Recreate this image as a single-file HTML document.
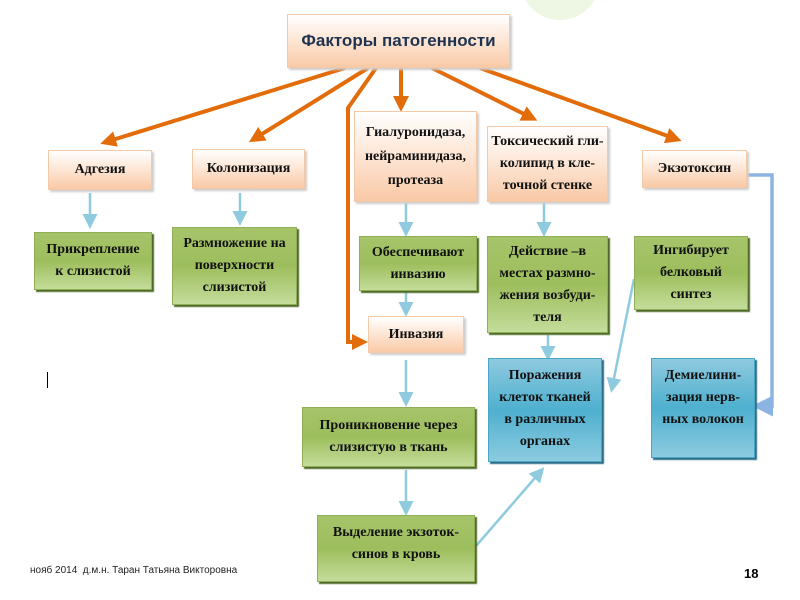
<!DOCTYPE html>
<html><head><meta charset="utf-8"><style>
body{margin:0;width:800px;height:600px;background:#fff;position:relative;overflow:hidden;font-family:"Liberation Serif",serif}
.b{position:absolute;display:flex;align-items:center;justify-content:center;text-align:center;font-weight:bold;font-size:14px;line-height:22px;color:#111;box-sizing:border-box}
.o{background:linear-gradient(#fff 0%,#fde5d3 50%,#f9c9a6 100%);border:1px solid #f4c9a8;box-shadow:2px 2px 2px #ccc}
.g{background:linear-gradient(#a6c46a,#9dbe5d 50%,#c4dc9a);border:1px solid #8fae55;box-shadow:2px 2px 1px #4f6b2a}
.bl{background:linear-gradient(#8fcadf,#4eb0cf 50%,#8ccbe0);border:1px solid #4ba6c4;box-shadow:2px 2px 1px #2d6f88}
</style></head><body>
<div style="position:absolute;left:520px;top:-60px;width:80px;height:80px;border-radius:50%;background:#eef6e4"></div>
<svg width="800" height="600" style="position:absolute;left:0;top:0">
<defs>
<marker id="ao" markerWidth="4" markerHeight="4" refX="2.5" refY="2" orient="auto"><path d="M0,0L4,2L0,4z" fill="#e36c0a"/></marker>
<marker id="ab" markerWidth="6" markerHeight="6" refX="4" refY="3" orient="auto"><path d="M0,0L6,3L0,6z" fill="#8fcadf"/></marker>
<marker id="ab2" markerWidth="6" markerHeight="6" refX="4" refY="3" orient="auto"><path d="M0,0L6,3L0,6z" fill="#8db3e2"/></marker>
</defs>
<g stroke="#e36c0a" stroke-width="4" fill="none">
<line x1="345" y1="68" x2="106" y2="142" marker-end="url(#ao)"/>
<line x1="368" y1="68" x2="254" y2="139" marker-end="url(#ao)"/>
<line x1="401" y1="68" x2="401" y2="106" marker-end="url(#ao)"/>
<line x1="432" y1="68" x2="532" y2="118" marker-end="url(#ao)"/>
<line x1="480" y1="68" x2="676" y2="139" marker-end="url(#ao)"/>
<polyline points="376,68 348,108 348,342 362,342" marker-end="url(#ao)"/>
</g>
<g stroke="#8fcadf" stroke-width="2.5" fill="none">
<line x1="90" y1="193" x2="90" y2="224" marker-end="url(#ab)"/>
<line x1="240" y1="193" x2="240" y2="221" marker-end="url(#ab)"/>
<line x1="406" y1="203" x2="406" y2="232" marker-end="url(#ab)"/>
<line x1="406" y1="292" x2="406" y2="312" marker-end="url(#ab)"/>
<line x1="544" y1="203" x2="544" y2="232" marker-end="url(#ab)"/>
<line x1="548" y1="335" x2="548" y2="356" marker-end="url(#ab)"/>
<line x1="406" y1="360" x2="406" y2="402" marker-end="url(#ab)"/>
<line x1="406" y1="470" x2="406" y2="511" marker-end="url(#ab)"/>
<line x1="476" y1="546" x2="541" y2="471" marker-end="url(#ab)"/>
<line x1="634" y1="279" x2="612" y2="388" marker-end="url(#ab)"/>
</g>
<polyline points="748,175 772,175 772,406 759,406" stroke="#8db3e2" stroke-width="3.5" fill="none" marker-end="url(#ab2)"/>
</svg>
<div class="b o" style="left:287px;top:14px;width:223px;height:54px;font-family:'Liberation Sans',sans-serif;font-size:17px;color:#1f3350">Факторы патогенности</div>
<div class="b o" style="left:48px;top:150px;width:104px;height:40px">Адгезия</div>
<div class="b o" style="left:192px;top:149px;width:113px;height:40px">Колонизация</div>
<div class="b o" style="left:354px;top:111px;width:123px;height:91px;line-height:24px">Гиалуронидаза,<br>нейраминидаза,<br>протеаза</div>
<div class="b o" style="left:487px;top:126px;width:121px;height:76px">Токсический гли-<br>колипид в кле-<br>точной стенке</div>
<div class="b o" style="left:642px;top:150px;width:105px;height:38px">Экзотоксин</div>
<div class="b g" style="left:34px;top:232px;width:118px;height:58px">Прикрепление<br>к слизистой</div>
<div class="b g" style="left:172px;top:227px;width:125px;height:78px">Размножение на<br>поверхности<br>слизистой</div>
<div class="b g" style="left:359px;top:236px;width:118px;height:55px">Обеспечивают<br>инвазию</div>
<div class="b g" style="left:487px;top:236px;width:121px;height:97px">Действие –в<br>местах размно-<br>жения возбуди-<br>теля</div>
<div class="b g" style="left:634px;top:236px;width:114px;height:74px">Ингибирует<br>белковый<br>синтез</div>
<div class="b o" style="left:368px;top:316px;width:96px;height:37px">Инвазия</div>
<div class="b bl" style="left:488px;top:358px;width:114px;height:104px;align-items:flex-start;padding-top:6px">Поражения<br>клеток тканей<br>в различных<br>органах</div>
<div class="b bl" style="left:651px;top:358px;width:104px;height:100px;align-items:flex-start;padding-top:6px">Демиелини-<br>зация нерв-<br>ных волокон</div>
<div class="b g" style="left:302px;top:407px;width:173px;height:60px">Проникновение через<br>слизистую в ткань</div>
<div class="b g" style="left:317px;top:515px;width:158px;height:67px;align-items:flex-start;padding-top:6px">Выделение экзоток-<br>синов в кровь</div>
<div style="position:absolute;left:47px;top:372px;width:1px;height:16px;background:#000"></div>
<div style="position:absolute;left:30px;top:565px;font-family:'Liberation Sans',sans-serif;font-size:10px;color:#222">нояб 2014&nbsp; д.м.н. Таран Татьяна Викторовна</div>
<div style="position:absolute;left:744px;top:566px;font-family:'Liberation Sans',sans-serif;font-size:13px;font-weight:bold">18</div>
</body></html>
